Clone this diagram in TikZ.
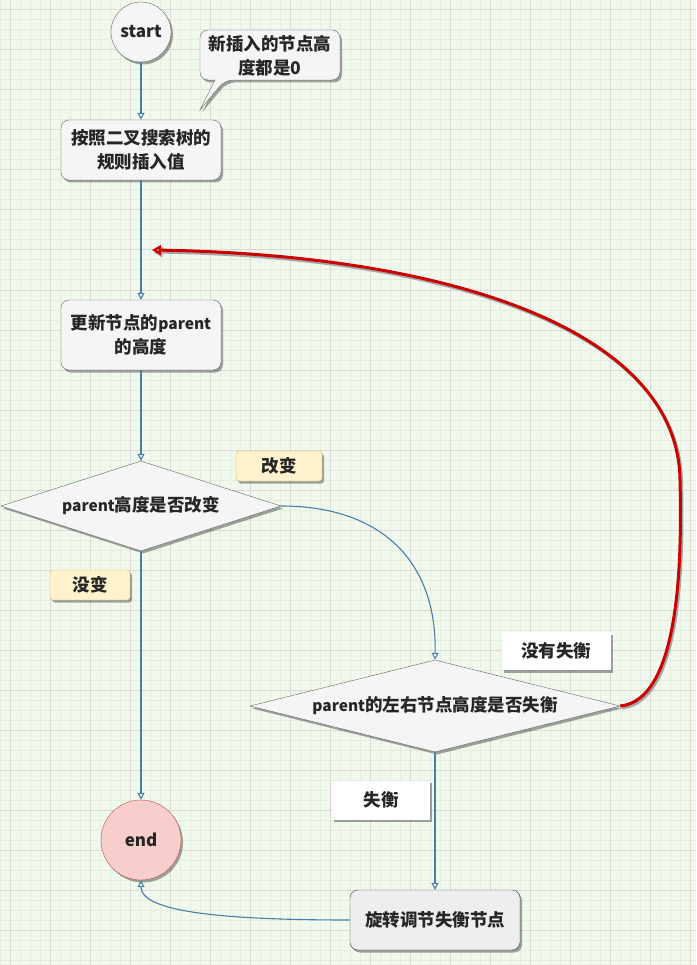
\documentclass[tikz,border=0pt]{standalone}
\usepackage{fontspec}
\setmainfont{Noto Sans CJK SC}
\usetikzlibrary{shapes.geometric,arrows.meta,shadows}
\definecolor{bgc}{HTML}{F1F9EE}
\definecolor{minorc}{HTML}{E4EEDF}
\definecolor{majorc}{HTML}{D9DAD2}
\definecolor{nodefill}{HTML}{F5F5F5}
\definecolor{nodedraw}{HTML}{666666}
\definecolor{flowc}{HTML}{4A7EA6}
\definecolor{redc}{HTML}{CC0000}
\definecolor{endfill}{HTML}{F8CECC}
\definecolor{enddraw}{HTML}{B85450}
\definecolor{yfill}{HTML}{FFF2CC}
\definecolor{ydraw}{HTML}{D6B656}
\definecolor{b3fill}{HTML}{EEEEEE}
\definecolor{b3draw}{HTML}{36393D}
\newcommand\lat[1]{{\fontsize{15.5}{18}\selectfont #1}}
\newcommand\latb[1]{{\fontsize{17}{20}\selectfont #1}}
\tikzset{
  shd/.style={drop shadow={shadow xshift=2pt,shadow yshift=-2.5pt,fill=black,opacity=0.35}},
  txt/.style={font=\fontsize{17.5}{24}\selectfont\bfseries, text=black!85},
  circ/.style={circle, draw=nodedraw, fill=nodefill, shd, txt, inner sep=0pt},
  boxn/.style={rectangle, rounded corners=8pt, draw=nodedraw, fill=nodefill, shd, txt, align=center, inner sep=2pt},
  dia/.style={diamond, draw=nodedraw, fill=nodefill, shd, txt, inner sep=0pt, aspect=4},
  ylab/.style={rectangle, rounded corners=3pt, draw=ydraw, fill=yfill, shd, txt, inner sep=0pt},
  wlab/.style={rectangle, fill=white, shd, txt, inner sep=0pt},
  fl/.style={draw=flowc, line width=1.1pt, -{Triangle[open,length=7pt,width=7pt]}},
  redarrow/.style={draw=redc, line width=3pt, -{Triangle[open,length=9pt,width=10pt]},
    preaction={draw=black!35, line width=3pt, transform canvas={shift={(1.5pt,-2pt)}}}}
}
\begin{document}
\begin{tikzpicture}[x=1pt,y=-1pt]
\useasboundingbox (0,0) rectangle (696,965);
\fill[bgc] (0,0) rectangle (696,965);
\foreach \i in {0,10,...,690} \draw[minorc, line width=1pt] (\i,0) -- (\i,965);
\foreach \i in {0,10,...,960} \draw[minorc, line width=1pt] (0,\i) -- (696,\i);
\foreach \i in {10,50,...,690} \draw[majorc, line width=1pt] (\i,0) -- (\i,965);
\foreach \i in {10,50,...,970} \draw[majorc, line width=1pt] (0,\i) -- (696,\i);

% nodes
\node[circ, minimum size=60pt] (start) at (141,32) {\latb{start}};
\node[boxn, minimum width=160pt, minimum height=60pt] (b1) at (141,150) {按照二叉搜索树的\\规则插入值};
\node[boxn, minimum width=160pt, minimum height=70pt] (b2) at (141,335) {更新节点的\lat{parent}\\的高度};
\node[dia, minimum width=280pt, minimum height=90pt] (d1) at (141,506) {\lat{parent}高度是否改变};
\node[dia, minimum width=370pt, minimum height=92pt] (d2) at (435,706) {\lat{parent}的左右节点高度是否失衡};
\node[circ, minimum size=80pt, draw=enddraw, fill=endfill] (end) at (141,840) {\latb{end}};
\node[boxn, draw=b3draw, fill=b3fill, minimum width=170pt, minimum height=60pt] (b3) at (435,920) {旋转调节失衡节点};

\node[ylab, minimum width=86pt, minimum height=30pt] (l1) at (279,466) {改变};
\node[ylab, minimum width=80pt, minimum height=30pt] (l2) at (90,585) {没变};
\node[wlab, minimum width=109pt, minimum height=38pt] (l3) at (556,651) {没有失衡};
\node[wlab, minimum width=98pt, minimum height=39pt] (l4) at (381,800) {失衡};

% callout
\filldraw[draw=nodedraw, fill=nodefill, shd, rounded corners=8pt]
  (200,30) -- (340,30) -- (340,80) -- (225,80) [sharp corners] -- (200,110) -- (215,80) [rounded corners=8pt] -- (200,80) -- cycle;
\node[txt, align=center, inner sep=0pt] (cb) at (270,56) {新插入的节点高\\度都是0};

% connectors
\draw[fl] (start) -- (b1);
\draw[fl] (b1) -- (b2);
\draw[fl] (b2) -- (d1);
\draw[fl] (d1) -- (end);
\draw[fl] (d1.east) .. controls (380,506) and (437,560) .. (d2.north);
\draw[fl] (d2) -- (b3);
\draw[fl] (b3.west) .. controls (210,920) and (141,910) .. (end.south);
\coordinate (rt) at (152,250);
\draw[redarrow] (d2.east) .. controls (680,700) and (682,560) .. (680,480) .. controls (678,330) and (450,255) .. (rt);
\end{tikzpicture}
\end{document}
